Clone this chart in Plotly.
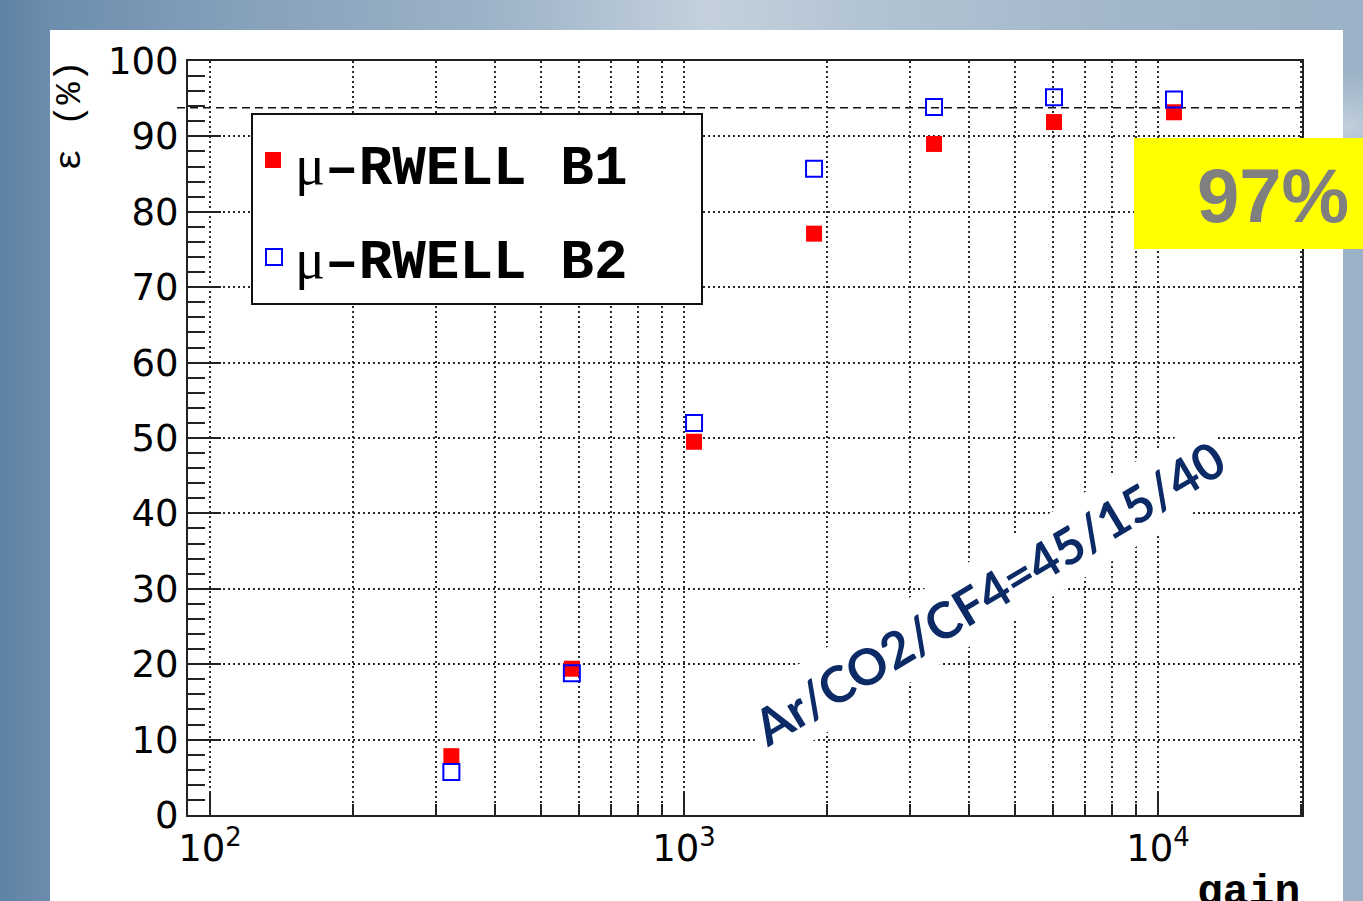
import base64
import plotly.graph_objects as go

# ---- measured efficiency vs. gas gain -------------------------------------
gain = [323, 580, 1050, 1881, 3369, 6034, 10809]
eff_b1 = [7.8, 19.4, 49.5, 77.1, 89.0, 91.9, 93.2]
eff_b2 = [5.7, 18.8, 52.0, 85.7, 93.9, 95.2, 94.9]
series_names = ["μ-RWELL B1", "μ-RWELL B2"]
plateau_level = 93.8
plateau_label = "97%"
gas_label = "Ar/CO2/CF4=45/15/40"
x_tick_vals = [100, 1000, 10000]
y_tick_vals = [0, 10, 20, 30, 40, 50, 60, 70, 80, 90, 100]

# ---- page geometry (pixels) -----------------------------------------------
W, H = 1363, 901
L, R, T, B = 188, 1302, 61, 815
PW, PH = R - L, B - T


def px(x):
    return (x - L) / PW


def py(y):
    return (B - y) / PH


# slide background behind the white panel
svg = f"""<svg xmlns='http://www.w3.org/2000/svg' width='{W}' height='{H}'>
<defs>
<linearGradient id='g' x1='0' y1='0' x2='1' y2='0'>
<stop offset='0' stop-color='#5f83a5'/>
<stop offset='0.04' stop-color='#6d8eae'/>
<stop offset='0.18' stop-color='#86a1bb'/>
<stop offset='0.36' stop-color='#9db3c7'/>
<stop offset='0.52' stop-color='#c4d1dd'/>
<stop offset='0.63' stop-color='#b3c4d3'/>
<stop offset='0.82' stop-color='#a3b7ca'/>
<stop offset='1' stop-color='#9bb1c5'/>
</linearGradient>
<radialGradient id='s' cx='0.99' cy='0.14' r='0.06'>
<stop offset='0' stop-color='#c3d1dd' stop-opacity='0.9'/>
<stop offset='1' stop-color='#c3d1dd' stop-opacity='0'/>
</radialGradient>
</defs>
<rect width='{W}' height='{H}' fill='url(#g)'/>
<rect width='{W}' height='{H}' fill='url(#s)'/>
</svg>"""
bg_src = "data:image/svg+xml;base64," + base64.b64encode(svg.encode()).decode()

fig = go.Figure()

fig.add_trace(go.Scatter(
    x=gain, y=eff_b1, mode="markers", name=series_names[0],
    marker=dict(symbol="square", size=16, color="#ff0000", line=dict(width=0)),
    showlegend=False,
))
fig.add_trace(go.Scatter(
    x=gain, y=eff_b2, mode="markers", name=series_names[1],
    marker=dict(symbol="square-open", size=16, color="#0000ff", line=dict(width=2, color="#0000ff")),
    showlegend=False,
))

# minor log ticks 2..9 per decade
minor_x = [m * 10 ** e for e in (1, 2, 3, 4) for m in range(2, 10)]

tick_font = dict(family="DejaVu Sans", size=37, color="#000000")
grid_dash = "2px,3px"
grid_col = "#2a2a2a"

fig.update_xaxes(
    type="log", range=[1.9536, 4.3038],
    tickvals=x_tick_vals, tickmode="array", exponentformat="power",
    ticktext=["10<sup>2</sup>", "10<sup>3</sup>", "10<sup>4</sup>"],
    ticks="inside", ticklen=22, tickwidth=2, tickcolor="#222222",
    showgrid=True, gridcolor=grid_col, gridwidth=1.6, griddash=grid_dash,
    minor=dict(tickvals=minor_x, ticks="inside", ticklen=11, tickwidth=2, tickcolor="#222222",
               showgrid=True, gridcolor=grid_col, gridwidth=1.6, griddash=grid_dash),
    showline=True, linecolor="#222222", linewidth=2, mirror=True,
    tickfont=tick_font, zeroline=False,
)
fig.update_yaxes(
    range=[0, 100], tickvals=y_tick_vals, tickmode="array",
    ticks="inside", ticklen=33, tickwidth=2, tickcolor="#222222",
    showgrid=True, gridcolor=grid_col, gridwidth=1.6, griddash=grid_dash,
    minor=dict(dtick=2, ticks="inside", ticklen=17, tickwidth=2, tickcolor="#222222", showgrid=False),
    showline=True, linecolor="#222222", linewidth=2, mirror=True,
    tickfont=tick_font, zeroline=False,
)

shapes = [
    # white panel
    dict(type="rect", xref="paper", yref="paper", x0=px(50), x1=px(1343), y0=py(901), y1=py(30),
         fillcolor="#ffffff", line=dict(width=0), layer="below"),
    # plateau reference line
    dict(type="line", xref="paper", yref="y", x0=px(177), x1=1, y0=plateau_level, y1=plateau_level,
         line=dict(color="#111111", width=1.5, dash="8px,5px"), layer="below"),
    # legend frame
    dict(type="rect", xref="paper", yref="paper", x0=px(252), x1=px(702), y0=py(304), y1=py(114),
         fillcolor="#ffffff", line=dict(color="#111111", width=2), layer="above"),
    # legend symbols
    dict(type="rect", xref="paper", yref="paper", x0=px(265), x1=px(281), y0=py(168), y1=py(152),
         fillcolor="#ff0000", line=dict(width=0), layer="above"),
    dict(type="rect", xref="paper", yref="paper", x0=px(266), x1=px(282), y0=py(265), y1=py(249),
         fillcolor="rgba(0,0,0,0)", line=dict(color="#0000ff", width=2), layer="above"),
    # highlight box
    dict(type="rect", xref="paper", yref="paper", x0=px(1134), x1=px(1370), y0=py(249), y1=py(138),
         fillcolor="#ffff00", line=dict(width=0), layer="above"),
]

mono = "Liberation Mono"
annotations = [
    dict(text="<span style='font-family:Liberation Serif;font-weight:normal'>μ</span>–RWELL B1",
         xref="paper", yref="paper",
         x=px(293), y=py(167), xanchor="left", yanchor="middle", showarrow=False,
         font=dict(family=mono, size=56, color="#000000", weight="bold")),
    dict(text="<span style='font-family:Liberation Serif;font-weight:normal'>μ</span>–RWELL B2",
         xref="paper", yref="paper",
         x=px(293), y=py(261), xanchor="left", yanchor="middle", showarrow=False,
         font=dict(family=mono, size=56, color="#000000", weight="bold")),
    dict(text="ε (%)", xref="paper", yref="paper", x=px(70), y=py(116), textangle=-90,
         xanchor="center", yanchor="middle", showarrow=False,
         font=dict(family=mono, size=37, color="#000000")),
    dict(text="gain", xref="paper", yref="paper", x=px(1302), y=py(866),
         xanchor="right", yanchor="top", showarrow=False,
         font=dict(family=mono, size=43, color="#000000", weight="bold")),
    dict(text=plateau_label, xref="paper", yref="paper", x=px(1273), y=py(195),
         xanchor="center", yanchor="middle", showarrow=False,
         font=dict(family="Liberation Sans", size=76, color="#7f7f7f", weight="bold")),
    dict(text=gas_label, xref="paper", yref="paper", x=px(988), y=py(593), textangle=-31,
         xanchor="center", yanchor="middle", showarrow=False, bgcolor="#ffffff", borderpad=6,
         font=dict(family="Lato", size=50, color="#0b2a66", weight="bold")),
]

fig.update_layout(
    width=W, height=H,
    margin=dict(l=L, r=W - R, t=T, b=H - B, pad=0),
    paper_bgcolor="#9db3c7", plot_bgcolor="#ffffff",
    shapes=shapes, annotations=annotations,
    images=[dict(source=bg_src, xref="paper", yref="paper", x=px(0), y=py(0),
                 sizex=W / PW, sizey=H / PH, xanchor="left", yanchor="top",
                 sizing="stretch", layer="below")],
    showlegend=False,
)

fig.write_html("out.html")
